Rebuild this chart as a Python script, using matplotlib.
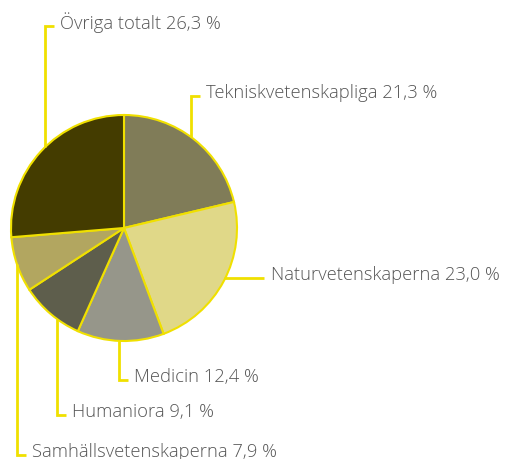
import matplotlib.pyplot as plt
import numpy as np

labels = ['Tekniskvetenskapliga', 'Naturvetenskaperna', 'Medicin',
          'Humaniora', 'Samhällsvetenskaperna', 'Övriga totalt']
values = [21.3, 23.0, 12.4, 9.1, 7.9, 26.3]
colors = ['#807c58', '#e0d888', '#96968a', '#5e5e4c', '#b2a660', '#443c00']
yellow = '#f0e000'

W, H = 505, 460
cx, cy, r = 124, H - 229, 113

fig = plt.figure(figsize=(W / 100, H / 100), dpi=100)
ax = fig.add_axes([0, 0, 1, 1])

ax.pie(values, colors=colors, startangle=90, counterclock=False,
       center=(cx, cy), radius=r, frame=True,
       wedgeprops=dict(edgecolor=yellow, linewidth=1.5))
ax.set_xlim(0, W)
ax.set_ylim(0, H)
ax.set_aspect('equal')
ax.axis('off')

# leader layout: (kind, line coordinate, elbow end, direction)
# 'v' = vertical line at x, then short elbow; 'h' = horizontal line at y
leaders = [
    ('v', 191, 97, 'up'),     # Tekniskvetenskapliga
    ('h', 279, 264, None),    # Naturvetenskaperna
    ('v', 119, 381, 'down'),  # Medicin
    ('v', 57, 416, 'down'),   # Humaniora
    ('v', 17, 456, 'down'),   # Samhällsvetenskaperna
    ('v', 45, 27, 'up'),      # Övriga
]

def fmt(v):
    return f'{v:.1f}'.replace('.', ',') + ' %'

txt = dict(fontsize=13.2, color='#555555', family='Open Sans',
           fontweight='light', va='center', ha='left')

for lab, v, (kind, a, b, d) in zip(labels, values, leaders):
    text = f'{lab} {fmt(v)}'
    if kind == 'v':
        x = a
        dy = np.sqrt(max(r**2 - (x - cx)**2, 0))
        y_edge = cy + dy if d == 'up' else cy - dy
        y_end = H - b
        ax.plot([x, x, x + 9], [y_edge, y_end, y_end], color=yellow, lw=2,
                solid_joinstyle='miter', solid_capstyle='butt')
        ax.text(x + 15, y_end + 4, text, **txt)
    else:
        y = H - a
        dx = np.sqrt(max(r**2 - (y - cy)**2, 0))
        x_edge = cx + dx - 1
        ax.plot([x_edge, b], [y, y], color=yellow, lw=2, solid_capstyle='butt')
        ax.text(b + 7, y + 4, text, **txt)

fig.savefig('out.png', dpi=100)
